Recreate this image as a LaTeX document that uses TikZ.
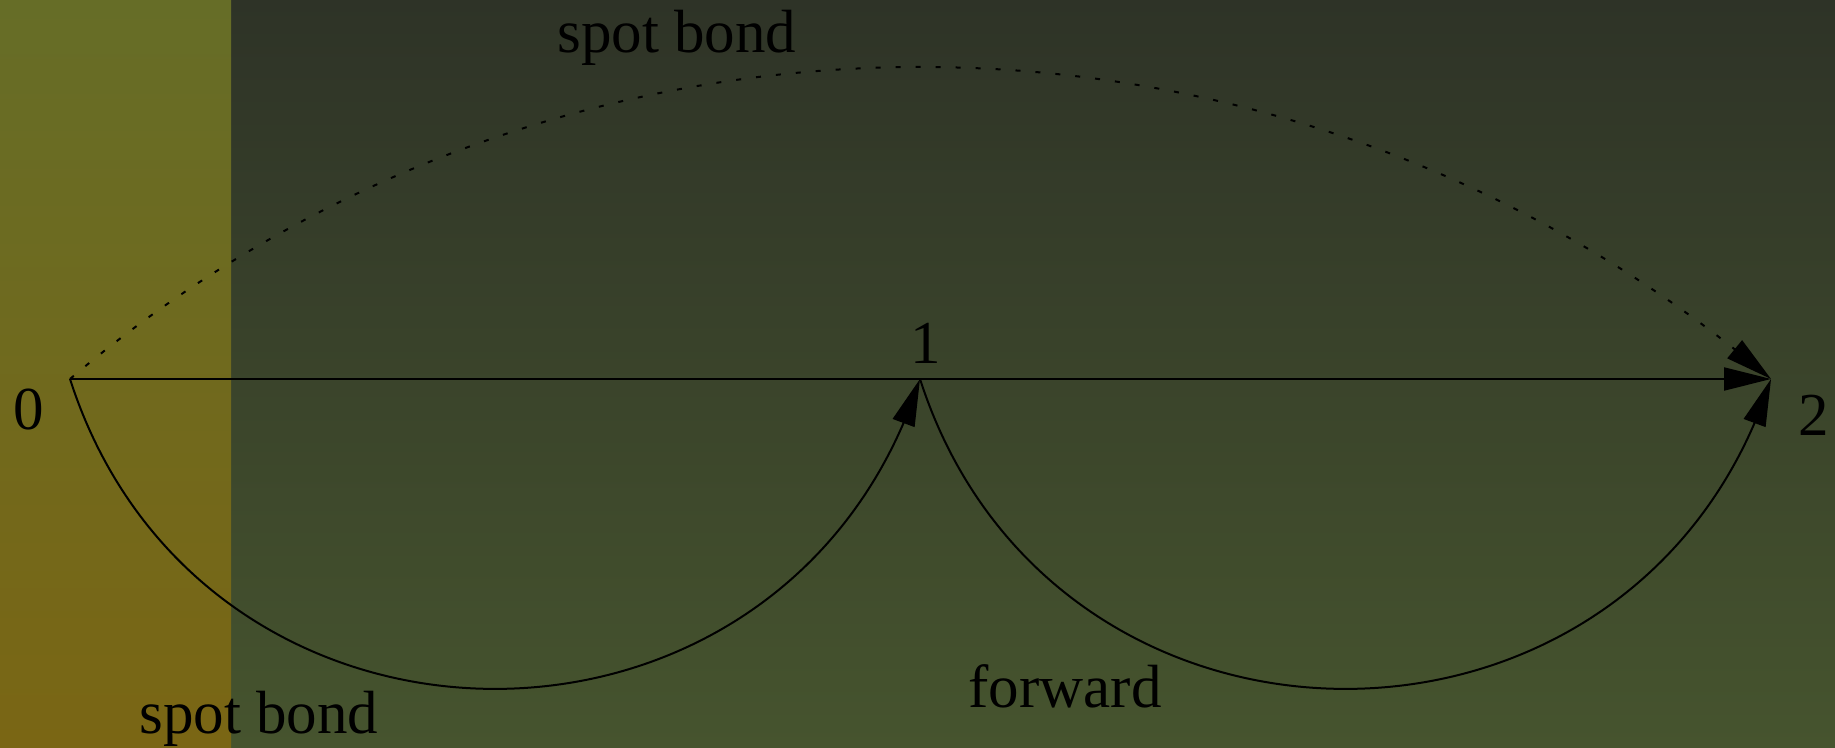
\documentclass[tikz,border=0pt]{standalone}
\usepackage{fontspec}
\setmainfont{Liberation Serif}
\usetikzlibrary{arrows.meta,bending}
\definecolor{lefttop}{HTML}{666D27}
\definecolor{leftbot}{HTML}{7A6614}
\definecolor{righttop}{HTML}{2E3327}
\definecolor{rightbot}{HTML}{46542E}
\begin{document}
\begin{tikzpicture}[x=0.5pt,y=0.5pt,
  conn/.style={line width=1pt,-{Triangle[length=23.5pt,width=11.5pt,flex]}},
  dotconn/.style={conn,dash pattern=on 2.5pt off 7.5pt},
  lbl/.style={font=\fontsize{30.5pt}{36pt}\selectfont,inner sep=0pt,text=black}]
\useasboundingbox (0,0) rectangle (1835,748);
\shade[top color=righttop,bottom color=rightbot] (0,0) rectangle (1835,748);
\shade[top color=lefttop,bottom color=leftbot] (0,0) rectangle (231,748);
\coordinate (p0) at (70,369);
\coordinate (p1) at (920,369);
\coordinate (p2) at (1771,369);
\draw[conn] (p0) -- (p2);
\draw[conn] (p0) to[out=-72.2,in=-107.8,out distance=217pt,in distance=217pt] (p1);
\draw[conn] (p1) to[out=-72.2,in=-107.8,out distance=217pt,in distance=217pt] (p2);
\draw[dotconn] (p0) to[out=40.3,in=139.7,out distance=321.6pt,in distance=321.6pt] (p2);
\node[lbl] (l0) at (28.5,338) {0};
\node[lbl] (l1) at (926,405) {1};
\node[lbl] (l2) at (1814,333) {2};
\node[lbl,anchor=base] (st) at (677,695) {spot bond};
\node[lbl,anchor=base] (fw) at (1065,40) {forward};
\node[lbl,anchor=base] (sb) at (259,14) {spot bond};
\end{tikzpicture}
\end{document}
